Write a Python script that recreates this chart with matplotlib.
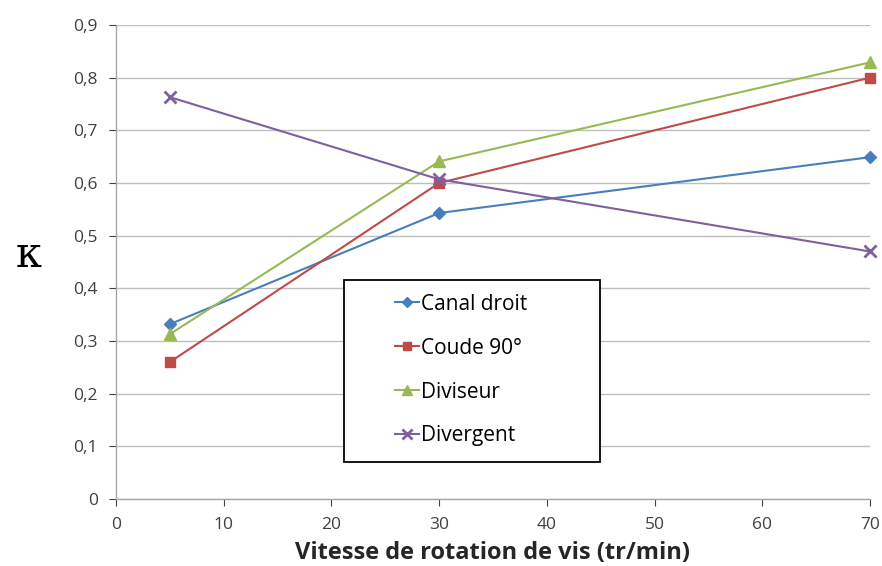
import matplotlib
matplotlib.use("Agg")
import matplotlib.pyplot as plt
from matplotlib.patches import Rectangle

vitesse = [5, 30, 70]
canal_droit = [0.332, 0.543, 0.649]
coude_90 = [0.260, 0.600, 0.800]
diviseur = [0.313, 0.641, 0.829]
divergent = [0.763, 0.607, 0.470]

series_labels = ["Canal droit", "Coude 90°", "Diviseur", "Divergent"]
x_ticks = [0, 10, 20, 30, 40, 50, 60, 70]
y_ticks = [0, 0.1, 0.2, 0.3, 0.4, 0.5, 0.6, 0.7, 0.8, 0.9]

plt.rcParams["font.family"] = ["Open Sans", "DejaVu Sans"]

fig = plt.figure(figsize=(8.82, 5.66), dpi=100)
ax = fig.add_axes([0.1315, 0.1184, 0.8549, 0.8374])

styles = [
    dict(color="#4A7EBB", marker="D", markersize=6.5),
    dict(color="#BE4B48", marker="s", markersize=7.5),
    dict(color="#98B954", marker="^", markersize=9),
    dict(color="#7D60A0", marker="x", markersize=9, markeredgewidth=2),
]
for values, label, st in zip([canal_droit, coude_90, diviseur, divergent], series_labels, styles):
    ax.plot(vitesse, values, label=label, linewidth=1.5, clip_on=False, **st)

ax.set_xlim(0, 70)
ax.set_ylim(0, 0.9)
ax.set_xticks(x_ticks)
ax.set_yticks(y_ticks)
ax.set_xticklabels([str(v) for v in x_ticks])
ax.set_yticklabels([f"{v:.1f}".replace(".", ",") if v else "0" for v in y_ticks])
ax.tick_params(labelsize=12.5, colors="#404040", length=5, width=0.8)
ax.tick_params(axis="y", pad=8)
ax.tick_params(axis="x", pad=8)
for t in ax.get_xticklines() + ax.get_yticklines():
    t.set_color("#A6A6A6")

ax.grid(axis="y", color="#BFBFBF", linewidth=1)
ax.set_axisbelow(True)
for side in ("top", "right"):
    ax.spines[side].set_visible(False)
for side in ("left", "bottom"):
    ax.spines[side].set_color("#A6A6A6")
    ax.spines[side].set_linewidth(1)

ax.set_xlabel("Vitesse de rotation de vis (tr/min)", fontsize=17, fontweight="bold",
              color="#262626", labelpad=6)
fig.text(0.032, 0.549, "κ", fontsize=30, family=["DejaVu Serif"], ha="center", va="center")

# legend box drawn separately so its frame can be sized freely
ax.add_patch(Rectangle((0.302, 0.078), 0.340, 0.384, transform=ax.transAxes,
                       facecolor="white", edgecolor="black", linewidth=1.3, zorder=5))
leg = ax.legend(loc="center left", bbox_to_anchor=(0.370, 0.272), fontsize=15,
                frameon=False, handlelength=1.15, handletextpad=0.1,
                labelspacing=1.1, borderpad=0, borderaxespad=0, markerscale=0.85)
leg.set_zorder(6)

fig.savefig("out.png", dpi=100)
